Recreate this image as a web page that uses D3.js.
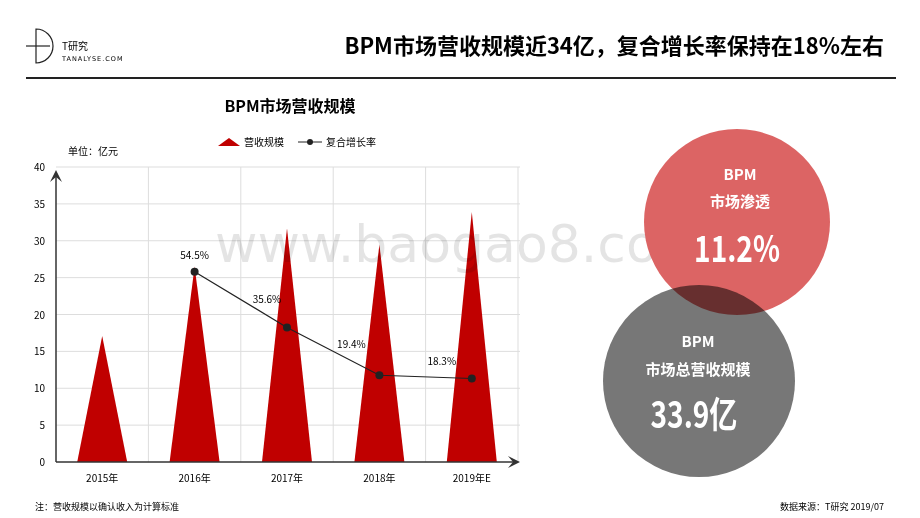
<!DOCTYPE html>
<html><head><meta charset="utf-8">
<script src="https://cdn.jsdelivr.net/npm/d3@7"></script>
<style>
body{margin:0;background:#fff;font-family:"Noto Sans CJK SC","Noto Sans",sans-serif;}
</style></head><body>
<script>
// chart data
var years = ["2015年", "2016年", "2017年", "2018年", "2019年E"];
var revenue = [17.1, 26.5, 31.7, 29.5, 33.9];
var rateYears = ["2016年", "2017年", "2018年", "2019年E"];
var rate = [54.5, 35.6, 19.4, 18.3];
var yTicks = [0, 5, 10, 15, 20, 25, 30, 35, 40];

var W = 920, H = 518;
var svg = d3.select("body").append("svg").attr("width", W).attr("height", H);
var f = "'Noto Sans CJK SC', sans-serif";

// header
var logo = svg.append("g").attr("fill", "none").attr("stroke", "#222").attr("stroke-width", 1.2);
logo.append("path").attr("d", "M36,29 A17,17 0 0 1 36,63 Z");
logo.append("line").attr("x1", 26).attr("x2", 50).attr("y1", 46).attr("y2", 46);
svg.append("text").attr("x", 62).attr("y", 50).attr("font-size", 10).attr("font-family", f).text("T研究");
svg.append("text").attr("x", 62).attr("y", 61).attr("font-size", 6.5).attr("letter-spacing", 1).attr("font-family", "DejaVu Sans").text("TANALYSE.COM");
svg.append("line").attr("x1", 26).attr("x2", 896).attr("y1", 78).attr("y2", 78).attr("stroke", "#222").attr("stroke-width", 2);
svg.append("text").attr("x", 884).attr("y", 54).attr("text-anchor", "end").attr("font-size", 22).attr("font-weight", "bold").attr("font-family", f).text("BPM市场营收规模近34亿，复合增长率保持在18%左右");

// chart
var x = d3.scaleBand().domain(years).range([56, 518]);
var y = d3.scaleLinear().domain([0, 40]).range([462, 167]);
var y2 = d3.scaleLinear().domain([-10, 90]).range([462, 167]);
var cx = function(d) { return x(d) + x.bandwidth() / 2; };

svg.append("text").attr("x", 290).attr("y", 112).attr("text-anchor", "middle").attr("font-size", 16).attr("font-weight", "bold").attr("font-family", f).text("BPM市场营收规模");
svg.append("text").attr("x", 68).attr("y", 155).attr("font-size", 10).attr("font-family", f).text("单位：亿元");

var lg = svg.append("g").attr("font-size", 10).attr("font-family", f);
lg.append("path").attr("d", "M218,146 L240,146 L229,138 Z").attr("fill", "#c00000");
lg.append("text").attr("x", 244).attr("y", 146).text("营收规模");
lg.append("line").attr("x1", 298).attr("x2", 322).attr("y1", 142).attr("y2", 142).attr("stroke", "#222");
lg.append("circle").attr("cx", 310).attr("cy", 142).attr("r", 3).attr("fill", "#222");
lg.append("text").attr("x", 326).attr("y", 146).text("复合增长率");

// grid
svg.append("g").selectAll("line").data(yTicks.slice(1)).enter().append("line")
  .attr("x1", 56).attr("x2", 520).attr("y1", d => y(d)).attr("y2", d => y(d)).attr("stroke", "#ddd");
svg.append("g").selectAll("line").data(years).enter().append("line")
  .attr("x1", d => x(d) + x.bandwidth()).attr("x2", d => x(d) + x.bandwidth())
  .attr("y1", 167).attr("y2", 462).attr("stroke", "#ddd");

svg.append("g").selectAll("text").data(yTicks).enter().append("text")
  .attr("x", 45).attr("y", d => y(d) + 4).attr("text-anchor", "end").attr("font-size", 10).attr("font-family", f).text(d => d);
svg.append("g").selectAll("text").data(years).enter().append("text")
  .attr("x", cx).attr("y", 482).attr("text-anchor", "middle").attr("font-size", 10).attr("font-family", f).text(d => d);

// triangles
svg.append("g").selectAll("path").data(revenue).enter().append("path")
  .attr("fill", "#c00000")
  .attr("d", (d, i) => { var c = cx(years[i]); return "M" + (c - 25) + "," + y(0) + "L" + c + "," + y(d) + "L" + (c + 25) + "," + y(0) + "Z"; });

// axes with arrows
svg.append("line").attr("x1", 56).attr("x2", 56).attr("y1", 462).attr("y2", 172).attr("stroke", "#333").attr("stroke-width", 1.5);
svg.append("path").attr("d", "M50,182 L56,170 L62,182 L56,177 Z").attr("fill", "#333");
svg.append("line").attr("x1", 56).attr("x2", 515).attr("y1", 462).attr("y2", 462).attr("stroke", "#333").attr("stroke-width", 1.5);
svg.append("path").attr("d", "M508,456 L520,462 L508,468 L513,462 Z").attr("fill", "#333");

// rate line
var line = d3.line().x((d, i) => cx(rateYears[i])).y(d => y2(d));
svg.append("path").datum(rate).attr("d", line).attr("fill", "none").attr("stroke", "#222").attr("stroke-width", 1.2);
svg.append("g").selectAll("circle").data(rate).enter().append("circle")
  .attr("cx", (d, i) => cx(rateYears[i])).attr("cy", d => y2(d)).attr("r", 4).attr("fill", "#222");
var lblOff = [[0, -13], [-20, -24], [-28, -27], [-30, -14]];
svg.append("g").selectAll("text").data(rate).enter().append("text")
  .attr("x", (d, i) => cx(rateYears[i]) + lblOff[i][0]).attr("y", (d, i) => y2(d) + lblOff[i][1])
  .attr("text-anchor", "middle").attr("font-size", 10).attr("font-family", f).text(d => d.toFixed(1) + "%");

// watermark
svg.append("text").attr("x", 215).attr("y", 262).attr("font-size", 52).attr("fill", "#000").attr("opacity", 0.1).attr("font-family", "DejaVu Sans").text("www.baogao8.com");

// circles
svg.append("circle").attr("cx", 737).attr("cy", 222).attr("r", 93).attr("fill", "#dc6464");
svg.append("circle").attr("cx", 699).attr("cy", 381).attr("r", 96).attr("fill", "#777").style("mix-blend-mode", "multiply");
var ct = svg.append("g").attr("fill", "#fff").attr("text-anchor", "middle").attr("font-family", f).attr("font-weight", "bold");
ct.append("text").attr("x", 740).attr("y", 180).attr("font-size", 15).text("BPM");
ct.append("text").attr("x", 740).attr("y", 207).attr("font-size", 15).text("市场渗透");
ct.append("text").attr("x", 737).attr("y", 262).attr("font-size", 36).attr("transform", "translate(737,0) scale(0.78,1) translate(-737,0)").text("11.2%");
ct.append("text").attr("x", 698).attr("y", 347).attr("font-size", 15).text("BPM");
ct.append("text").attr("x", 698).attr("y", 375).attr("font-size", 15).text("市场总营收规模");
ct.append("text").attr("x", 694).attr("y", 428).attr("font-size", 36).attr("transform", "translate(694,0) scale(0.78,1) translate(-694,0)").text("33.9亿");

// footer
svg.append("text").attr("x", 35).attr("y", 510).attr("font-size", 9).attr("font-family", f).text("注：营收规模以确认收入为计算标准");
svg.append("text").attr("x", 884).attr("y", 510).attr("text-anchor", "end").attr("font-size", 9).attr("font-family", f).text("数据来源：T研究 2019/07");
</script>
</body></html>
